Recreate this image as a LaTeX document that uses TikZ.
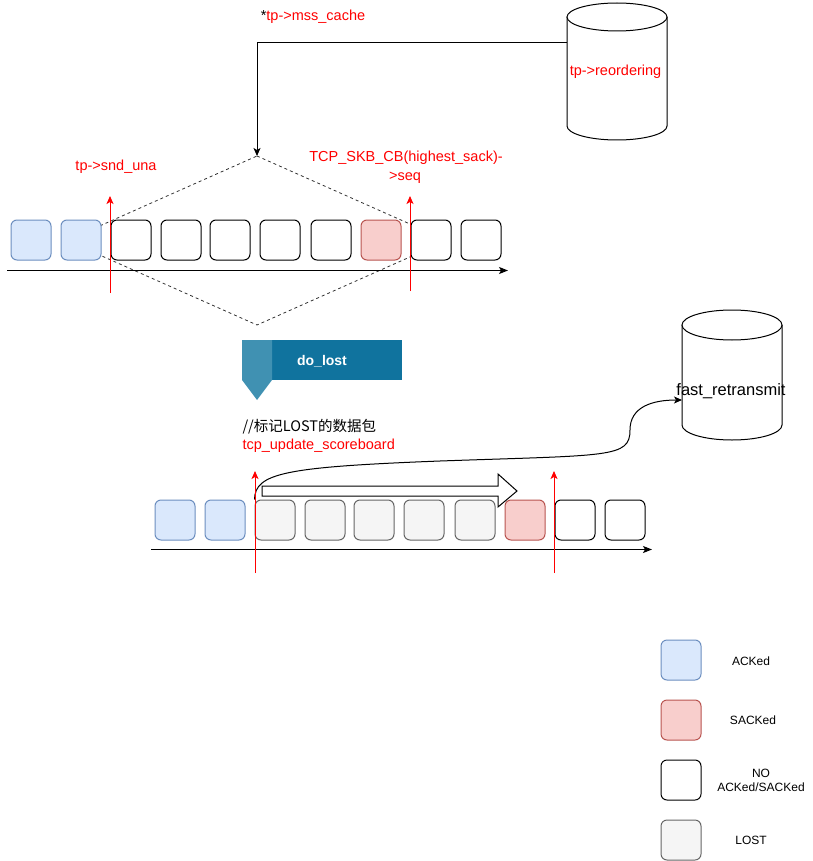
\documentclass[tikz,border=0pt]{standalone}
\usepackage{fontspec}
\setmainfont{Liberation Sans}
\newfontfamily\cjk{Noto Sans CJK SC}
\usetikzlibrary{arrows.meta,calc}
\definecolor{ackfill}{HTML}{DAE8FC}
\definecolor{ackdraw}{HTML}{6C8EBF}
\definecolor{sackfill}{HTML}{F8CECC}
\definecolor{sackdraw}{HTML}{B85450}
\definecolor{lostfill}{HTML}{F5F5F5}
\definecolor{lostdraw}{HTML}{666666}
\definecolor{flagdark}{HTML}{10739E}
\definecolor{flaglight}{HTML}{4091B2}
\begin{document}
\begin{tikzpicture}[x=1pt,y=-1pt,line width=1pt,
  pkt/.style={rectangle,rounded corners=6pt,minimum width=40pt,minimum height=40pt,inner sep=0pt,draw=black,fill=white},
  acked/.style={pkt,fill=ackfill,draw=ackdraw},
  sacked/.style={pkt,fill=sackfill,draw=sackdraw},
  lostpkt/.style={pkt,fill=lostfill,draw=lostdraw},
  redtxt/.style={text=red,inner sep=0pt,font=\fontsize{14.5}{17}\selectfont},
  blktxt/.style={text=black,inner sep=0pt,font=\fontsize{14.5}{17}\selectfont},
  legtxt/.style={text=black,inner sep=0pt,font=\fontsize{12}{14}\selectfont},
  tip/.style={-{Stealth[length=8pt,width=7pt,inset=2pt]}},
  redarrow/.style={red,tip},
  dashline/.style={dash pattern=on 3pt off 3pt,line width=0.8pt,draw=black!80}
]
\useasboundingbox (0,0) rectangle (812,861);

% ---------- top cylinder ----------
\draw[fill=white] (567,17) -- (567,126) arc[start angle=180,end angle=360,x radius=50pt,y radius=14pt] -- (667,17);
\draw[fill=white] (617,17) ellipse [x radius=50pt,y radius=14pt];
\node[redtxt,anchor=base] (reord) at (615.5,76) {tp->reordering};
\coordinate (reordL) at (567,43);

\node[blktxt,anchor=base] (mss) at (313,21) {*\textcolor{red}{tp->mss\_cache}};

% ---------- diamond ----------
\coordinate (dtop) at (257,156);
\coordinate (dright) at (447,240.5);
\coordinate (dbot) at (257,325);
\coordinate (dleft) at (67,240.5);
\draw[dashline] (dtop) -- (dright) -- (dbot) -- (dleft) -- cycle;
\draw[tip] (reordL) -| (dtop);

% ---------- top row ----------
\node[acked] (t1) at (31,240) {};
\node[acked] (t2) at (81,240) {};
\node[pkt] (t3) at (131,240) {};
\node[pkt] (t4) at (181,240) {};
\node[pkt] (t5) at (230,240) {};
\node[pkt] (t6) at (280,240) {};
\node[pkt] (t7) at (331,240) {};
\node[sacked] (t8) at (381,240) {};
\node[pkt] (t9) at (431,240) {};
\node[pkt] (t10) at (481,240) {};

\coordinate (ax1L) at (7,270.5);
\coordinate (ax1R) at (508,270.5);
\draw[-{Stealth[length=9pt,width=7pt,inset=2pt]}] (ax1L) -- (ax1R);

\coordinate (r1b) at (110,293);
\coordinate (r1t) at (110,196);
\coordinate (r2b) at (410,291);
\coordinate (r2t) at (410,196);
\draw[redarrow] (r1b) -- (r1t);
\draw[redarrow] (r2b) -- (r2t);

\node[redtxt,anchor=base] (snduna) at (116,171) {tp->snd\_una};
\node[redtxt,anchor=base] (hs1) at (406,162) {TCP\_SKB\_CB(highest\_sack)-};
\node[redtxt,anchor=base] (hs2) at (405,180.5) {>seq};

% ---------- do_lost flag ----------
\node[rectangle,fill=flagdark,minimum width=160pt,minimum height=40pt,inner sep=0pt] (dolost) at (322,360) {};
\fill[flaglight] (242,340) -- (272,340) -- (272,380) -- (257,400) -- (242,380) -- cycle;
\node[text=white,inner sep=0pt,anchor=base,font=\bfseries\fontsize{14}{16}\selectfont] (dolosttxt) at (322,365) {do\_lost};

\node[blktxt,anchor=base west] (cmt) at (242,431) {{\cjk //标记LOST的数据包}};
\node[redtxt,anchor=base west] (tus) at (242,449) {tcp\_update\_scoreboard};

% ---------- fast_retransmit cylinder ----------
\draw[fill=white] (682,325) -- (682,425) arc[start angle=180,end angle=360,x radius=50pt,y radius=15pt] -- (782,325);
\draw[fill=white] (732,325) ellipse [x radius=50pt,y radius=15pt];
\node[inner sep=0pt,anchor=base,font=\fontsize{16.5}{19}\selectfont] (fr) at (731,395) {fast\_retransmit};
\coordinate (frIn) at (682,400);

% ---------- bottom row ----------
\node[acked] (b1) at (175,520) {};
\node[acked] (b2) at (225,520) {};
\node[lostpkt] (b3) at (275,520) {};
\node[lostpkt] (b4) at (325,520) {};
\node[lostpkt] (b5) at (374,520) {};
\node[lostpkt] (b6) at (424,520) {};
\node[lostpkt] (b7) at (475,520) {};
\node[sacked] (b8) at (525,520) {};
\node[pkt] (b9) at (575,520) {};
\node[pkt] (b10) at (625,520) {};

\coordinate (ax2L) at (151,549.5);
\coordinate (ax2R) at (652,549.5);
\draw[-{Stealth[length=9pt,width=7pt,inset=2pt]}] (ax2L) -- (ax2R);

\draw[fill=white] (262,486) -- (498,486) -- (498,474) -- (517,491) -- (498,507) -- (498,496) -- (262,496) -- cycle;

\draw[tip] (b3.north west) .. controls (255,473) and (285,467) .. (440,461)
  .. controls (610,455) and (630,458) .. (630,430)
  .. controls (630,407) and (652,400) .. (frIn);

\coordinate (r3b) at (255,573);
\coordinate (r3t) at (255,471);
\coordinate (r4b) at (554,573);
\coordinate (r4t) at (554,471);
\draw[redarrow] (r3b) -- (r3t);
\draw[redarrow] (r4b) -- (r4t);

% ---------- legend ----------
\node[acked] (l1) at (681,660) {};
\node[sacked] (l2) at (681,720) {};
\node[pkt] (l3) at (681,780) {};
\node[lostpkt] (l4) at (681,840) {};
\node[legtxt,anchor=base] (l1t) at (751,665) {ACKed};
\node[legtxt,anchor=base] (l2t) at (753,724.5) {SACKed};
\node[legtxt,anchor=base] (l3t) at (761,777.5) {NO};
\node[legtxt,anchor=base] (l3u) at (761,791.5) {ACKed/SACKed};
\node[legtxt,anchor=base] (l4t) at (751,844.5) {LOST};
\end{tikzpicture}
\end{document}
